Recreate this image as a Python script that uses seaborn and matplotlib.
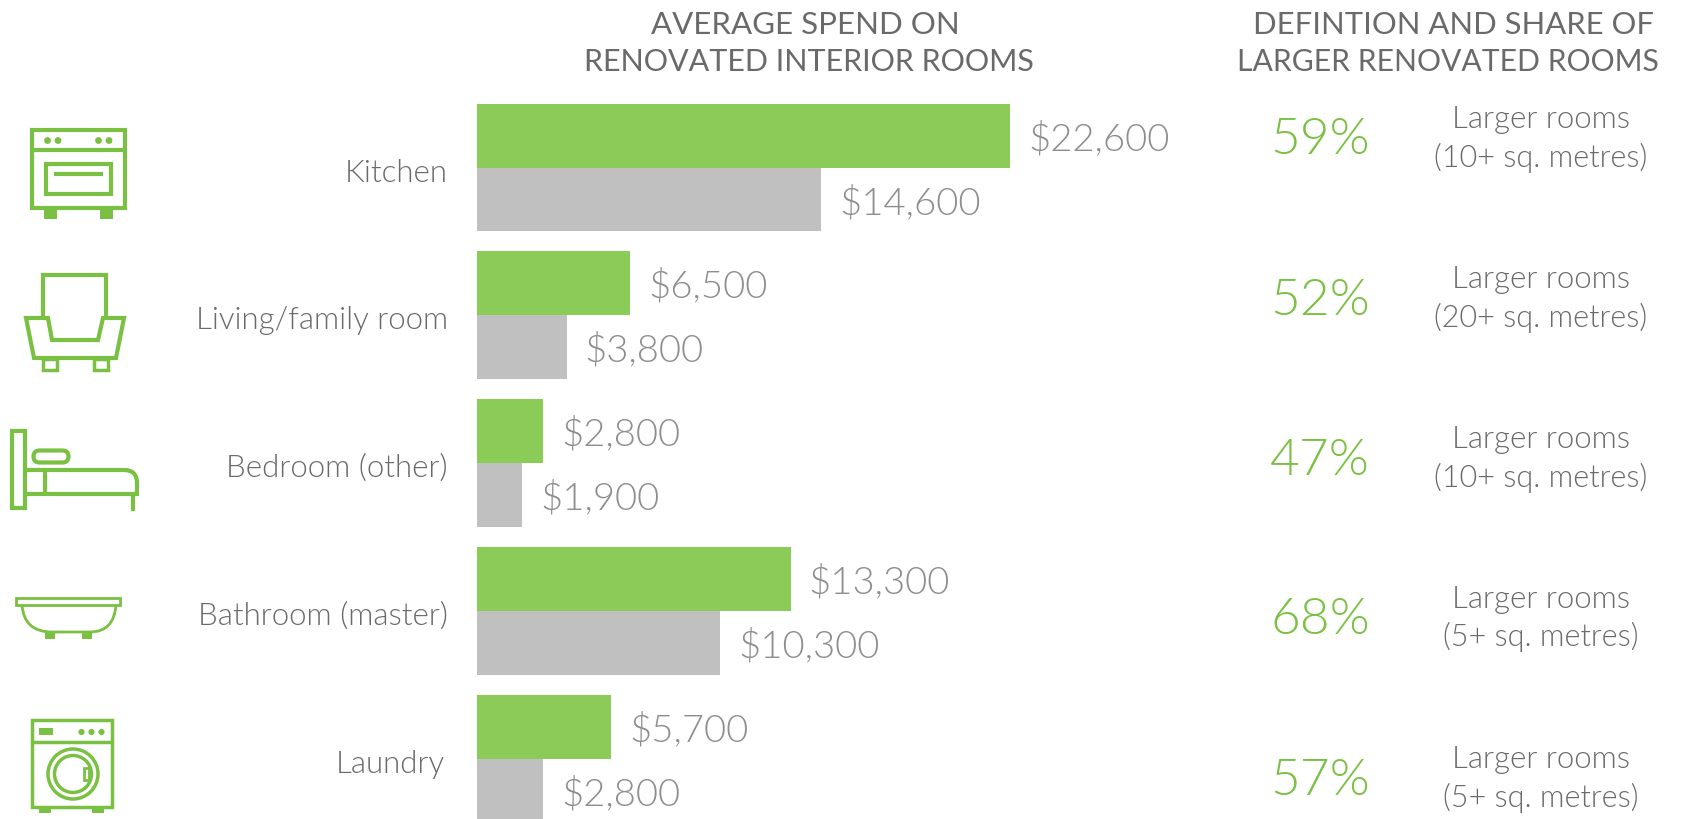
import pandas as pd
import matplotlib
matplotlib.use('Agg')
import matplotlib.pyplot as plt
import seaborn as sns
from matplotlib.patches import Rectangle, Circle, Polygon, FancyBboxPatch, PathPatch
from matplotlib.path import Path
from matplotlib.transforms import ScaledTranslation

rooms = ['Kitchen', 'Living/family room', 'Bedroom (other)', 'Bathroom (master)', 'Laundry']
larger_spend = [22600, 6500, 2800, 13300, 5700]
other_spend = [14600, 3800, 1900, 10300, 2800]
larger_share = ['59%', '52%', '47%', '68%', '57%']
room_sizes = ['10+', '20+', '10+', '5+', '5+']
header_left = ['AVERAGE SPEND ON', 'RENOVATED INTERIOR ROOMS']
header_right = ['DEFINTION AND SHARE OF', 'LARGER RENOVATED ROOMS']

GREEN = '#8bcb57'
ICON = '#7ac143'
GREY = '#c0c0c0'
DARK = '#6a6a6a'
LIGHT = '#8e8e8e'
W, H = 1682, 819
PX_PER_DOLLAR = 533.1 / 22600
BAR_LEFT = 477

sns.set_theme(style='white')
plt.rcParams['font.family'] = ['Lato', 'DejaVu Sans']

data = pd.DataFrame({
    'room': rooms * 2,
    'spend': larger_spend + other_spend,
    'group': ['larger'] * 5 + ['other'] * 5,
})

fig = plt.figure(figsize=(W / 100, H / 100), dpi=100)
ax = fig.add_axes([BAR_LEFT / W, 0, 1 - BAR_LEFT / W, 1])
sns.barplot(data=data, y='room', x='spend', hue='group', palette={'larger': GREEN, 'other': GREY},
            width=0.866, gap=0, legend=False, saturation=1, linewidth=0, ax=ax)
ax.set_xlim(0, (W - BAR_LEFT) / PX_PER_DOLLAR)
ax.set_ylim((H - 167.5) / 147.8, -167.5 / 147.8)
ax.set_xlabel('')
ax.set_ylabel('')
ax.set_xticks([])
ax.tick_params(axis='y', length=0, pad=21, labelsize=22.5, labelcolor=DARK)
for label in ax.get_yticklabels():
    label.set_fontweight(300)
    nudge_x = -3 if label.get_text() == 'Laundry' else 0
    label.set_transform(label.get_transform() + ScaledTranslation(nudge_x / 100, -2.5 / 100, fig.dpi_scale_trans))
sns.despine(ax=ax, left=True, bottom=True)

for bars in ax.containers:
    for label in ax.bar_label(bars, fmt='${:,.0f}', padding=13, fontsize=27.5, color=LIGHT, fontweight=300):
        label.set_va('center_baseline')

# overlay in pixel units for headers, side notes and icons
over = fig.add_axes([0, 0, 1, 1], facecolor='none')
over.set_xlim(0, W)
over.set_ylim(H, 0)
over.axis('off')

over.text(805, 25.5, header_left[0], ha='center', va='center', fontsize=22.5, color=DARK)
over.text(809, 62, header_left[1], ha='center', va='center', fontsize=22, color=DARK)
over.text(1454, 25.5, header_right[0], ha='center', va='center', fontsize=22.3, color=DARK)
over.text(1448, 62, header_right[1], ha='center', va='center', fontsize=21.7, color=DARK)

share_y = [140, 301, 461, 620, 781]
note_y = [120, 280, 440, 599, 760]
for i in range(5):
    over.text(1320, share_y[i], larger_share[i], ha='center', va='center', fontsize=37,
              color=ICON, fontweight=300)
    over.text(1541, note_y[i], 'Larger rooms', ha='center', va='center', fontsize=22.5,
              color=DARK, fontweight=300)
    over.text(1541, note_y[i] + 37.5, f'({room_sizes[i]} sq. metres)', ha='center', va='center',
              fontsize=22, color=DARK, fontweight=300)


def box(x0, y0, x1, y1, lw=3, fill=False):
    over.add_patch(Rectangle((x0, y0), x1 - x0, y1 - y0, fill=fill, fc=ICON, ec=ICON, lw=lw, joinstyle='miter'))


def dot(x, y, r, lw=0, fill=True):
    over.add_patch(Circle((x, y), r, fill=fill, fc=ICON, ec=ICON, lw=lw))


def poly(points, lw=3, closed=True):
    over.add_patch(Polygon(points, closed=closed, fill=False, ec=ICON, lw=lw, joinstyle='miter', capstyle='butt'))


def curve(verts, codes, lw=3):
    over.add_patch(PathPatch(Path(verts, codes), fill=False, ec=ICON, lw=lw, capstyle='butt'))


# oven
box(32, 130, 125, 208)
over.plot([32, 125], [150, 150], color=ICON, lw=3)
for x in [47.5, 58, 98.5, 109]:
    dot(x, 140.5, 3.4)
box(46, 164, 111, 194)
over.plot([54, 103], [174, 174], color=ICON, lw=3, solid_capstyle='butt')
box(44, 210, 57, 219, lw=0, fill=True)
box(100, 210, 113, 219, lw=0, fill=True)

# armchair
poly([(43, 316), (43, 275), (106, 275), (106, 316)], closed=False)
poly([(26, 318), (34, 358), (116, 358), (124, 318), (103, 318), (98, 340), (52, 340), (48, 318)])
box(43, 359, 57, 370, lw=2.5)
box(94, 359, 108, 370, lw=2.5)

# bed
box(12, 431, 25, 508)
over.add_patch(FancyBboxPatch((33.5, 450.5), 35, 12, boxstyle='round,pad=0,rounding_size=6',
                              fill=False, ec=ICON, lw=3))
curve([(27, 470), (124, 470), (137, 470), (137, 483), (137, 494), (24, 494)],
      [Path.MOVETO, Path.LINETO, Path.CURVE3, Path.CURVE3, Path.LINETO, Path.LINETO])
over.plot([45, 45], [470, 494], color=ICON, lw=3, solid_capstyle='butt')
over.plot([133, 133], [494, 511], color=ICON, lw=3, solid_capstyle='butt')

# bathtub
box(16.5, 597.5, 120.5, 605, lw=2)
curve([(22, 605), (24, 632), (52, 632), (90, 632), (114, 632), (116, 605)],
      [Path.MOVETO, Path.CURVE3, Path.CURVE3, Path.LINETO, Path.CURVE3, Path.CURVE3], lw=2)
box(45, 632, 55, 639, lw=0, fill=True)
box(82, 632, 92, 639, lw=0, fill=True)

# washing machine
box(32, 720, 112, 807, lw=2.5)
over.plot([32, 112], [742, 742], color=ICON, lw=2.5)
box(39, 728, 53, 735, lw=0, fill=True)
for x in [81.5, 91.5, 101.5]:
    dot(x, 732, 3.1)
dot(73, 774, 25, lw=2.5, fill=False)
dot(73, 774, 18.5, lw=2.5, fill=False)
over.add_patch(Rectangle((84, 768), 5, 12, fc='white', ec=ICON, lw=2))
box(39, 808, 51, 813, lw=0, fill=True)
box(92, 808, 104, 813, lw=0, fill=True)

fig.savefig('out.png', dpi=100)
